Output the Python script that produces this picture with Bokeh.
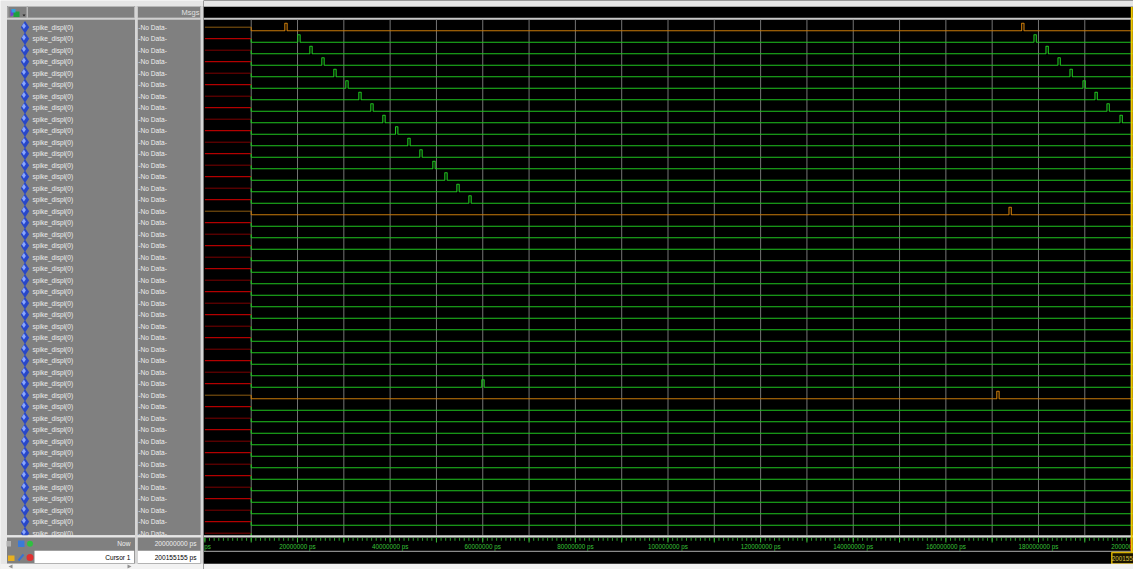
from bokeh.plotting import figure
from bokeh.models import Range1d
from bokeh.layouts import row
from bokeh.embed import file_html
from bokeh.resources import INLINE
from bokeh.core.properties import value

# ---------------- signal data ----------------
N_ROWS = 45
signal_names = ["spike_displ(0)"] * N_ROWS
signal_msgs = ["-No Data-"] * N_ROWS
highlight_rows = [0, 16, 32]          # signals drawn in orange

undefined_until_ps = 10_000_000       # value is X before this time
spike_width_ps = 500_000

spike_rows = [0, 1, 2, 3, 4, 5, 6, 7, 8, 9, 10, 11, 12, 13, 14, 15,
              0, 1, 2, 3, 4, 5, 6, 7, 8,
              16, 31, 32]
spike_times_ps = [17_260_000, 20_060_000, 22_660_000, 25_250_000, 27_840_000,
                  30_430_000, 33_240_000, 35_830_000, 38_420_000, 41_170_000,
                  43_820_000, 46_410_000, 49_220_000, 51_810_000, 54_410_000,
                  57_000_000,
                  176_370_000, 179_030_000, 181_620_000, 184_210_000, 186_800_000,
                  189_610_000, 192_200_000, 194_790_000, 197_600_000,
                  173_630_000, 59_800_000, 171_000_000]

now_ps = 200_000_000
cursor_ps = 200_155_155
now_label = "200000000 ps"
cursor_label = "200155155 ps"
cursor_name = "Cursor 1"

grid_times_ps = list(range(10_000_000, 200_000_001, 10_000_000))
ruler_minor_ps = list(range(0, 200_000_001, 1_000_000))
ruler_major_ps = list(range(0, 200_000_001, 10_000_000))
ruler_label_ps = list(range(0, 200_000_001, 20_000_000))
ruler_labels = ["%d ps" % t for t in ruler_label_ps]

# ---------------- look ----------------
FONT = value("Liberation Sans")
FS = "6.6px"
PANEL = "#808080"
LIGHT = "#e6e6e6"
TEXT = "#eeeeee"
GREEN = "#1fc41f"
ORANGE = "#c87a0a"
ORANGE_DARK = "#8c5c10"
RED_BRIGHT = "#dd0000"
RED_DARK = "#7d0000"
GRID = "#747474"
YELLOW = "#f0c800"

H = 569
LEFT_W = 203
WAVE_W = 930
ROW_PX = 11.5
ROW0_PX = 26.7
PX_PER_PS = 4.631e-6
T0_PX = 204.4          # screen x of time 0

rows_range = Range1d(start=(H - ROW0_PX) / ROW_PX, end=-ROW0_PX / ROW_PX)
LOW = 3.6 / ROW_PX
HIGH = -4.0 / ROW_PX

ROWS_TOP, ROWS_BOT = 19.3, 534.7


def bare(fig):
    fig.outline_line_color = None
    fig.min_border = 0
    return fig


# ================= left panel: names and values =================
L = bare(figure(width=LEFT_W, height=H, x_range=Range1d(0, LEFT_W),
                y_range=Range1d(H, 0), toolbar_location=None,
                output_backend="svg", x_axis_type=None, y_axis_type=None,
                background_fill_color=LIGHT, border_fill_color=LIGHT))
L.extra_y_ranges = {"rows": Range1d(start=rows_range.start, end=rows_range.end)}

# panel backgrounds
L.quad(left=[6.5, 137.0], right=[134.5, 200.3], top=[5.5, 5.5],
       bottom=[ROWS_BOT, ROWS_BOT], fill_color=PANEL, line_color=None)
# header cells
L.quad(left=[7.3, 27.0, 137.0], right=[26.5, 134.0, 200.0], top=[6.0] * 3,
       bottom=[17.5] * 3, fill_color=PANEL, line_color="#b8b8b8", line_width=1)
L.quad(left=[6.5], right=[200.3], top=[17.6], bottom=[19.3],
       fill_color="#d0d0d0", line_color=None)
# header icon
L.patch(x=[10, 16, 10], y=[9, 13, 16], fill_color="#7040d0", line_color=None)
L.quad(left=[13], right=[19], top=[11], bottom=[16.5], fill_color="#20a040", line_color=None)
L.quad(left=[11], right=[15], top=[8.5], bottom=[12], fill_color="#30a0e0", line_color=None)
L.patch(x=[22, 25, 23.5], y=[14, 14, 16], fill_color="#202020", line_color=None)
L.text(x=[199], y=[12], text=["Msgs"], text_font=FONT, text_font_size="7.5px",
       text_align="right", text_baseline="middle", text_color="#e0e0e0")

row_idx = list(range(N_ROWS))
# signal icons
L.scatter(x=[24.5] * N_ROWS, y=row_idx, y_range_name="rows", marker="diamond",
          size=12.5, fill_color="#2847c8", line_color=None)
L.scatter(x=[23.4] * N_ROWS, y=[r - 0.1 for r in row_idx], y_range_name="rows",
          marker="diamond", size=6, fill_color="#8aa6ff", line_color=None)
L.text(x=[32] * N_ROWS, y=row_idx, text=signal_names, y_range_name="rows",
       text_font=FONT, text_font_size=FS, text_align="left",
       text_baseline="middle", text_color=TEXT)
L.text(x=[137.8] * N_ROWS, y=row_idx, text=signal_msgs, y_range_name="rows",
       text_font=FONT, text_font_size=FS, text_align="left",
       text_baseline="middle", text_color=TEXT)

# status area
L.quad(left=[0], right=[LEFT_W], top=[ROWS_BOT], bottom=[H],
       fill_color=LIGHT, line_color=None)
L.quad(left=[6.5, 137.0], right=[134.5, 200.3], top=[537.0, 537.0],
       bottom=[563.0, 563.0], fill_color=PANEL, line_color=None)
L.quad(left=[34.0, 137.0], right=[133.7, 200.0], top=[550.2, 550.2],
       bottom=[562.5, 562.5], fill_color="#ffffff", line_color=None)
L.text(x=[130, 196], y=[543.3, 543.3], text=["Now", now_label], text_font=FONT,
       text_font_size=FS, text_align="right", text_baseline="middle",
       text_color=TEXT)
L.text(x=[130, 196], y=[556.5, 556.5], text=[cursor_name, cursor_label],
       text_font=FONT, text_font_size=FS, text_align="right",
       text_baseline="middle", text_color="#000000")
# status icons
L.quad(left=[6, 17.5], right=[10.5, 24], top=[540.5, 540], bottom=[546, 546.5],
       fill_color=["#b0b0b0", "#3a7ad8"], line_color=None)
L.scatter(x=[29.5], y=[543.3], marker="circle", size=6, fill_color="#30c040", line_color=None)
L.quad(left=[7.5], right=[14], top=[555], bottom=[560.5], fill_color="#e8b020", line_color=None)
L.segment(x0=[18], y0=[560], x1=[23], y1=[554], line_color="#3a70d0", line_width=2)
L.scatter(x=[29.5], y=[557.0], marker="circle", size=7, fill_color="#e03030", line_color=None)
L.quad(left=[0], right=[LEFT_W], top=[563.5], bottom=[H], fill_color="#f2f2f2", line_color=None)
L.patch(x=[8, 12, 12], y=[566, 564, 568], fill_color="#909090", line_color=None)
L.patch(x=[131, 127, 127], y=[566, 564, 568], fill_color="#909090", line_color=None)
# column dividers
L.quad(left=[134.5, 200.3], right=[137.0, LEFT_W], top=[5.5, 5.5], bottom=[563.0, 563.0],
       fill_color="#d6d6d6", line_color=None)

# ================= waveform pane =================
t_start = (LEFT_W - T0_PX) / PX_PER_PS
t_end = (LEFT_W + WAVE_W - T0_PX) / PX_PER_PS

W = bare(figure(width=WAVE_W, height=H, x_range=Range1d(t_start, t_end),
                y_range=Range1d(H, 0), toolbar_location=None,
                output_backend="svg", x_axis_type=None, y_axis_type=None,
                background_fill_color="#000000", border_fill_color="#000000"))
W.extra_y_ranges = {"rows": Range1d(start=rows_range.start, end=rows_range.end)}

W.quad(left=[t_start], right=[t_end], top=[0], bottom=[5.5], fill_color=LIGHT, line_color=None)
W.quad(left=[t_start], right=[t_end], top=[5.5], bottom=[6.5], fill_color="#a8a8a8", line_color=None)
W.quad(left=[t_start], right=[t_end], top=[17.3], bottom=[ROWS_TOP],
       fill_color="#c8c8c8", line_color=None)

# time grid
W.segment(x0=grid_times_ps, x1=grid_times_ps, y0=[ROWS_TOP] * len(grid_times_ps),
          y1=[ROWS_BOT] * len(grid_times_ps), line_color=GRID, line_width=1)

# undefined (X) part of each signal
x_colors = []
for r in row_idx:
    if r in highlight_rows:
        x_colors.append(ORANGE_DARK)
    else:
        x_colors.append(RED_BRIGHT if r % 2 else RED_DARK)
W.segment(x0=[0] * N_ROWS, x1=[undefined_until_ps] * N_ROWS, y0=row_idx, y1=row_idx,
          y_range_name="rows", line_color=x_colors, line_width=1)

# defined part with spikes
wave_xs, wave_ys, wave_colors = [], [], []
for r in row_idx:
    times = sorted(t for sr, t in zip(spike_rows, spike_times_ps) if sr == r)
    xs = [undefined_until_ps, undefined_until_ps]
    ys = [r, r + LOW]
    for t in times:
        xs += [t, t, t + spike_width_ps, t + spike_width_ps]
        ys += [r + LOW, r + HIGH, r + HIGH, r + LOW]
    xs.append(t_end)
    ys.append(r + LOW)
    wave_xs.append(xs)
    wave_ys.append(ys)
    wave_colors.append(ORANGE if r in highlight_rows else GREEN)
W.multi_line(xs=wave_xs, ys=wave_ys, y_range_name="rows", line_color=wave_colors,
             line_width=1.1)

# divider between signals and time ruler
W.quad(left=[t_start], right=[t_end], top=[ROWS_BOT], bottom=[537.0],
       fill_color="#d6d6d6", line_color=None)

# time ruler
W.segment(x0=ruler_minor_ps, x1=ruler_minor_ps, y0=[537.5] * len(ruler_minor_ps),
          y1=[540.3] * len(ruler_minor_ps), line_color="#2a9a2a", line_width=1)
W.segment(x0=ruler_major_ps, x1=ruler_major_ps, y0=[537.0] * len(ruler_major_ps),
          y1=[542.0] * len(ruler_major_ps), line_color="#38b838", line_width=1)
W.text(x=ruler_label_ps, y=[546.0] * len(ruler_label_ps), text=ruler_labels,
       text_font=FONT, text_font_size="6.3px", text_align="center",
       text_baseline="middle", text_color="#38c038")
W.quad(left=[t_start], right=[t_end], top=[550.3], bottom=[551.4],
       fill_color="#8a8a8a", line_color=None)
W.segment(x0=[now_ps], x1=[now_ps], y0=[538.0], y1=[550.0], line_color="#e02020", line_width=1.5)

# cursor
W.segment(x0=[cursor_ps], x1=[cursor_ps], y0=[6.5], y1=[551.4], line_color=YELLOW, line_width=2)
W.rect(x=[cursor_ps], y=[557.8], width=40, height=11.5, width_units="screen",
       height_units="screen", fill_color="#1a1400", line_color="#d8b000", line_width=1.5)
W.text(x=[cursor_ps], y=[557.8], text=[cursor_label], text_font=FONT,
       text_font_size="6.3px", text_align="center", text_baseline="middle",
       text_color="#d8c040")

W.quad(left=[t_start], right=[t_end], top=[563.3], bottom=[H], fill_color="#f2f2f2", line_color=None)

page = row(L, W)
open("out.html", "w").write(file_html(page, INLINE))
